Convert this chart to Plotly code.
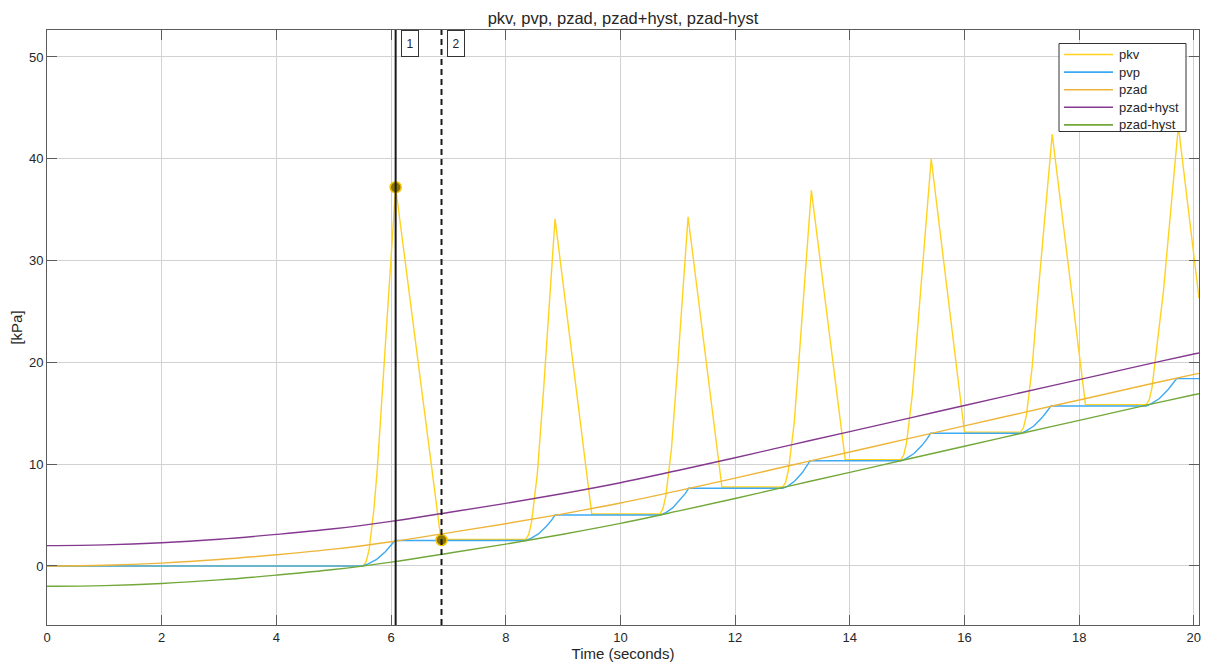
import plotly.graph_objects as go

# ---------------- data ----------------
pzad_t = [0, 1, 2, 3, 4, 5, 6, 7, 8, 9, 10, 11, 12, 13, 14, 15, 16, 17, 18, 19, 20, 20.09]
pzad_v = [0, 0.07, 0.28, 0.63, 1.1, 1.65, 2.38, 3.25, 4.15, 5.12, 6.18, 7.38, 8.63, 9.92,
          11.2, 12.48, 13.76, 15.04, 16.3, 17.58, 18.82, 18.92]
HYST = 2.0

pvp_t = [0, 5.50, 5.60, 5.75, 5.90, 6.00, 6.07,
         8.35, 8.44, 8.57, 8.71, 8.80, 8.86,
         10.69, 10.78, 10.91, 11.04, 11.13, 11.19,
         12.83, 12.92, 13.04, 13.17, 13.25, 13.31,
         14.89, 14.98, 15.12, 15.26, 15.35, 15.41,
         16.98, 17.07, 17.21, 17.35, 17.44, 17.51,
         19.17, 19.26, 19.40, 19.54, 19.63, 19.70, 20.09]
pvp_v = [0, 0, 0.2, 0.65, 1.4, 2.0, 2.5,
         2.5, 2.7, 3.15, 3.9, 4.5, 5.0,
         5.0, 5.2, 5.7, 6.5, 7.1, 7.63,
         7.63, 7.85, 8.35, 9.15, 9.8, 10.34,
         10.34, 10.55, 11.05, 11.85, 12.5, 13.03,
         13.03, 13.25, 13.75, 14.55, 15.2, 15.72,
         15.72, 15.95, 16.45, 17.25, 17.9, 18.4, 18.4]

pkv_t = [0, 5.52, 5.57, 5.62, 5.70, 5.76, 6.08, 6.87,
         8.35, 8.40, 8.45, 8.55, 8.66, 8.86, 9.50,
         10.69, 10.74, 10.79, 10.89, 10.99, 11.18, 11.77,
         12.83, 12.88, 12.93, 13.03, 13.13, 13.33, 13.92,
         14.89, 14.94, 14.99, 15.09, 15.19, 15.42, 16.00,
         16.98, 17.03, 17.08, 17.18, 17.28, 17.53, 18.11,
         19.17, 19.22, 19.27, 19.37, 19.47, 19.73, 20.09]
pkv_v = [0, 0, 0.5, 1.7, 5.5, 9.5, 37.2, 2.6,
         2.6, 3.1, 4.3, 9.0, 17.3, 34.1, 5.1,
         5.1, 5.6, 6.8, 11.5, 19.0, 34.3, 7.75,
         7.75, 8.2, 9.4, 14.0, 21.5, 36.9, 10.45,
         10.45, 10.9, 12.1, 16.8, 24.0, 40.0, 13.15,
         13.15, 13.6, 14.8, 19.5, 26.5, 42.4, 15.85,
         15.85, 16.3, 17.5, 22.2, 27.0, 43.2, 26.3]

cursor_t = [6.08, 6.88]
cursor_v = [37.2, 2.55]
cursor_labels = ["1", "2"]

x_ticks = [0, 2, 4, 6, 8, 10, 12, 14, 16, 18, 20]
y_ticks = [0, 10, 20, 30, 40, 50]

series_names = ["pkv", "pvp", "pzad", "pzad+hyst", "pzad-hyst"]
series_colors = ["#FFD21F", "#3DA9F2", "#EDB63A", "#84398F", "#72A83A"]

# ---------------- layout geometry (pixels, page has an 8px body margin) ----------------
OFF = 8
W, H = 1212 - 2 * OFF, 670 - 2 * OFF
PLOT_L, PLOT_R, PLOT_T, PLOT_B = 47, 1199, 30, 625   # screen pixels of the axes box
ML, MT = PLOT_L - OFF, PLOT_T - OFF
MR, MB = W - (PLOT_R - OFF), H - (PLOT_B - OFF)
PW, PH = W - ML - MR, H - MT - MB


def px_x(px):  # screen px -> paper x
    return (px - OFF - ML) / PW


def px_y(py):  # screen px -> paper y
    return 1 - (py - OFF - MT) / PH


FONT = "Liberation Sans, Arial, sans-serif"
TXT = "#262626"
fig = go.Figure()

series_data = [
    (pkv_t, pkv_v, "linear"),
    (pvp_t, pvp_v, "linear"),
    (pzad_t, pzad_v, "spline"),
    (pzad_t, [v + HYST for v in pzad_v], "spline"),
    (pzad_t, [v - HYST for v in pzad_v], "spline"),
]
for name, col, (xs, ys, shape) in zip(series_names, series_colors, series_data):
    fig.add_trace(go.Scatter(x=xs, y=ys, mode="lines", name=name, showlegend=False,
                             line=dict(color=col, width=1.4, shape=shape)))

fig.add_trace(go.Scatter(x=cursor_t, y=cursor_v, mode="markers", showlegend=False,
                         marker=dict(size=11, color="#8A7400",
                                     line=dict(color="#F2C200", width=1.5))))

# cursors
fig.add_shape(type="line", xref="x", yref="paper", x0=cursor_t[0], x1=cursor_t[0],
              y0=0, y1=1, line=dict(color="#1a1a1a", width=2))
fig.add_shape(type="line", xref="x", yref="paper", x0=cursor_t[1], x1=cursor_t[1],
              y0=0, y1=1, line=dict(color="#1a1a1a", width=2, dash="6px,4px"))
for t, lab in zip(cursor_t, cursor_labels):
    fig.add_annotation(x=t, y=1, xref="x", yref="paper", text=lab, showarrow=False,
                       xanchor="left", yanchor="top", xshift=5, yshift=0,
                       width=14, height=23, borderpad=1,
                       bgcolor="white", bordercolor="#333333", borderwidth=1,
                       font=dict(family=FONT, size=12, color=TXT))

# legend (drawn as box + line samples + labels)
LX0, LX1, LY0, LY1 = 1059, 1186, 43.5, 131.5
fig.add_shape(type="rect", xref="paper", yref="paper",
              x0=px_x(LX0), x1=px_x(LX1), y0=px_y(LY1), y1=px_y(LY0),
              fillcolor="white", line=dict(color="#333333", width=1), layer="above")
for i, (name, col) in enumerate(zip(series_names, series_colors)):
    yc = 54.5 + i * 17.6
    fig.add_shape(type="line", xref="paper", yref="paper",
                  x0=px_x(1064), x1=px_x(1113), y0=px_y(yc), y1=px_y(yc),
                  line=dict(color=col, width=1.6), layer="above")
    fig.add_annotation(x=px_x(1117), y=px_y(yc), xref="paper", yref="paper",
                       text=name, showarrow=False, xanchor="left", yanchor="middle",
                       font=dict(family=FONT, size=13, color=TXT))

axis_common = dict(showline=True, linecolor="#5c5c5c", linewidth=1, mirror="ticks",
                   ticks="inside", ticklen=10, tickcolor="#5c5c5c", tickwidth=1,
                   showgrid=True, gridcolor="#d2d2d2", gridwidth=1, zeroline=False,
                   automargin=False,
                   tickfont=dict(family=FONT, size=13, color=TXT))

fig.update_xaxes(range=[0, 20.09], tickvals=x_ticks, **axis_common,
                 title=dict(text="Time (seconds)", standoff=4,
                            font=dict(family=FONT, size=15, color=TXT)))
fig.update_yaxes(range=[-5.8, 52.65], tickvals=y_ticks, **axis_common,
                 title=dict(text="[kPa]", standoff=6,
                            font=dict(family=FONT, size=15, color=TXT)))

fig.update_layout(
    width=W, height=H,
    margin=dict(l=ML, r=MR, t=MT, b=MB, autoexpand=False),
    paper_bgcolor="white", plot_bgcolor="white",
    title=dict(text="pkv, pvp, pzad, pzad+hyst, pzad-hyst",
               x=((PLOT_L + PLOT_R) / 2 - OFF) / W,
               xanchor="center", y=1 - (18 - OFF) / H, yanchor="middle",
               font=dict(family=FONT, size=16.5, color=TXT)),
    showlegend=False,
)

fig.write_html("out.html")
